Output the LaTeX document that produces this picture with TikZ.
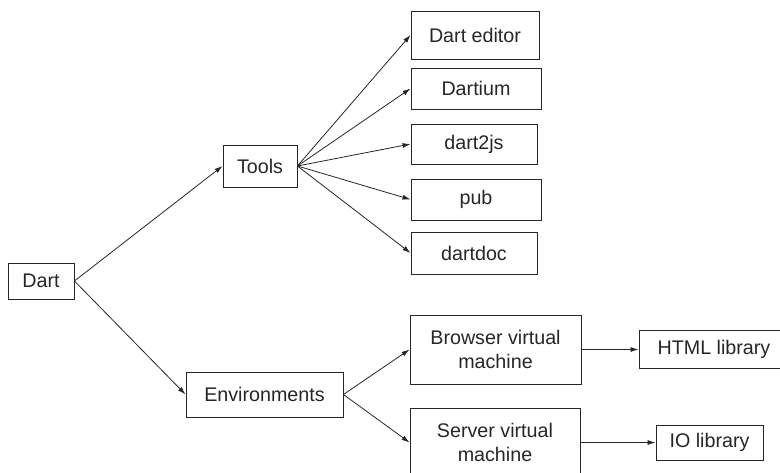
\documentclass[tikz,border=0pt]{standalone}
\usepackage{fontspec}
\setmainfont{Liberation Sans}
\usetikzlibrary{arrows.meta}

\tikzset{
  box/.style={draw=black!85, line width=0.9pt, inner sep=0pt, align=center,
    text=black!85, font=\fontsize{19.7}{24}\selectfont},
  link/.style={draw=black!85, line width=0.8pt, -{Latex[length=8pt,width=5pt]}}
}

\begin{document}
\begin{tikzpicture}[x=1pt, y=-1pt]
\useasboundingbox (0,0) rectangle (780,473);

% Root and branches
\node[box, minimum width=66pt, minimum height=36pt] (dart) at (41,281) {Dart};
\node[box, minimum width=74pt, minimum height=42pt] (tools) at (260,166) {Tools};
\node[box, minimum width=157pt, minimum height=45pt] (env) at (264.5,394.5) {Environments};

% Tools
\node[box, minimum width=128pt, minimum height=48pt] (editor) at (475,35) {Dart editor};
\node[box, minimum width=130pt, minimum height=41pt] (dartium) at (476,88.5) {Dartium};
\node[box, minimum width=126pt, minimum height=40pt] (dart2js) at (474,144) {dart2js};
\node[box, minimum width=130pt, minimum height=41pt] (pub) at (476,199.5) {pub};
\node[box, minimum width=126pt, minimum height=42pt] (dartdoc) at (474,253) {dartdoc};

% Environments
\node[box, minimum width=171pt, minimum height=69pt] (browser) at (495.5,349.5) {Browser virtual\\machine};
\node[box, minimum width=170pt, minimum height=69pt] (server) at (495,442.5) {Server virtual\\machine};
\node[box, minimum width=150pt, minimum height=38pt] (html) at (714,349.5) {HTML library};
\node[box, minimum width=107pt, minimum height=35pt] (io) at (709.5,442.5) {IO library};

% Arrows
\draw[link] (dart.east) -- (tools.west);
\draw[link] (dart.east) -- (env.west);

\draw[link] (tools.east) -- (editor.west);
\draw[link] (tools.east) -- (dartium.west);
\draw[link] (tools.east) -- (dart2js.west);
\draw[link] (tools.east) -- (pub.west);
\draw[link] (tools.east) -- (dartdoc.west);

\draw[link] (env.east) -- (browser.west);
\draw[link] (env.east) -- (server.west);
\draw[link] (browser.east) -- (html.west);
\draw[link] (server.east) -- (io.west);
\end{tikzpicture}
\end{document}
